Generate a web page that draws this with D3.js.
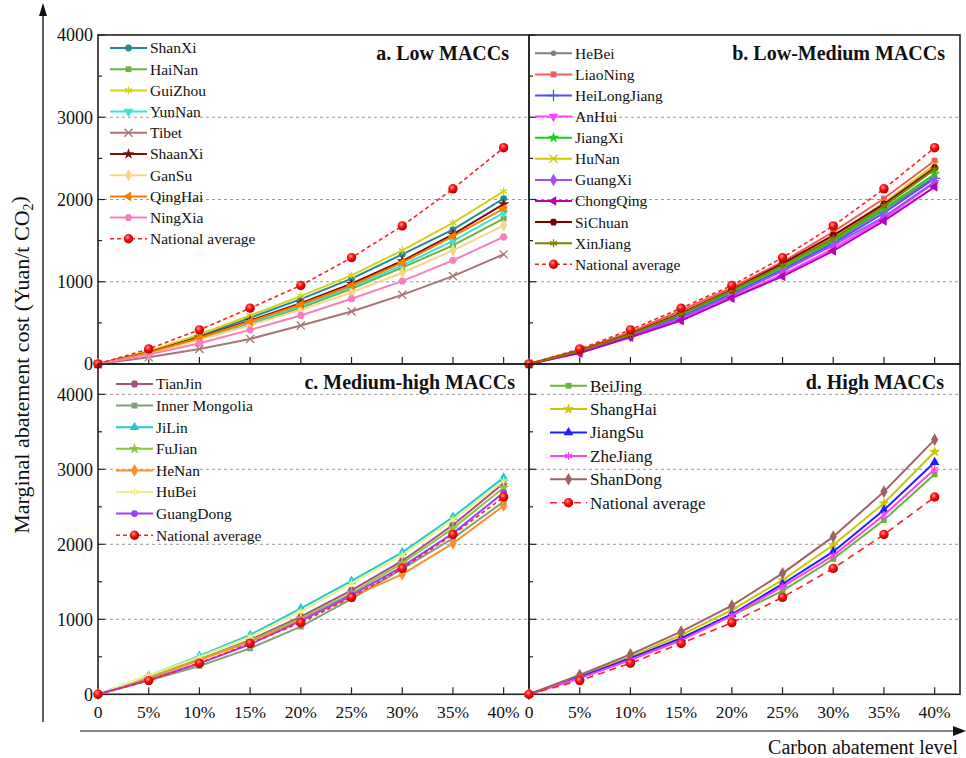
<!DOCTYPE html>
<html>
<head>
<meta charset="utf-8">
<script src="https://cdn.jsdelivr.net/npm/d3@7"></script>
<style>
  body { margin: 0; background: #fff; }
  svg { display: block; font-family: "Liberation Serif", "Times New Roman", serif; }
</style>
</head>
<body>
<svg id="chart" width="966" height="758"></svg>
<script>
// abatement levels (%) and their labels
const levels = [0, 5, 10, 15, 20, 25, 30, 35, 40];
const levelLabels = ["0", "5%", "10%", "15%", "20%", "25%", "30%", "35%", "40%"];
const costTicks = [0, 1000, 2000, 3000, 4000];

const nationalAvg = [0, 183, 415, 679, 955, 1293, 1679, 2130, 2630];

// a. Low MACCs
const lowNames = ["ShanXi", "HaiNan", "GuiZhou", "YunNan", "Tibet", "ShaanXi", "GanSu", "QingHai", "NingXia"];
const lowValues = [
  [0, 146, 341, 561, 789, 1037, 1333, 1634, 2012],
  [0, 130, 305, 488, 683, 915, 1171, 1443, 1768],
  [0, 154, 358, 589, 825, 1077, 1382, 1715, 2098],
  [0, 134, 305, 504, 703, 935, 1199, 1496, 1837],
  [0, 81, 183, 305, 467, 638, 841, 1069, 1333],
  [0, 142, 325, 528, 740, 976, 1252, 1577, 1943],
  [0, 122, 293, 472, 659, 870, 1110, 1382, 1683],
  [0, 138, 317, 516, 724, 955, 1232, 1553, 1890],
  [0, 114, 252, 415, 589, 793, 1008, 1260, 1545]
];

// b. Low-Medium MACCs
const lowMedNames = ["HeBei", "LiaoNing", "HeiLongJiang", "AnHui", "JiangXi", "HuNan", "GuangXi", "ChongQing", "SiChuan", "XinJiang"];
const lowMedValues = [
  [0, 154, 350, 589, 862, 1159, 1484, 1870, 2276],
  [0, 171, 386, 650, 927, 1240, 1606, 2012, 2472],
  [0, 150, 346, 577, 854, 1146, 1463, 1837, 2256],
  [0, 138, 333, 541, 813, 1089, 1402, 1768, 2203],
  [0, 159, 358, 602, 878, 1171, 1504, 1890, 2309],
  [0, 163, 366, 618, 902, 1207, 1545, 1959, 2419],
  [0, 146, 341, 561, 833, 1130, 1443, 1789, 2215],
  [0, 134, 325, 528, 801, 1065, 1374, 1740, 2154],
  [0, 163, 366, 618, 902, 1220, 1565, 1943, 2386],
  [0, 159, 358, 610, 894, 1199, 1524, 1919, 2366]
];

// c. Medium-high MACCs
const medHighNames = ["TianJin", "Inner Mongolia", "JiLin", "FuJian", "HeNan", "HuBei", "GuangDong"];
const medHighValues = [
  [0, 222, 462, 724, 1035, 1387, 1778, 2258, 2813],
  [0, 182, 378, 613, 902, 1271, 1671, 2080, 2569],
  [0, 249, 511, 791, 1147, 1511, 1893, 2364, 2889],
  [0, 231, 471, 711, 1013, 1347, 1747, 2213, 2755],
  [0, 213, 458, 702, 991, 1302, 1600, 2013, 2515],
  [0, 253, 498, 769, 1102, 1480, 1858, 2329, 2844],
  [0, 191, 413, 667, 978, 1324, 1702, 2146, 2689]
];

// d. High MACCs
const highNames = ["BeiJing", "ShangHai", "JiangSu", "ZheJiang", "ShanDong"];
const highValues = [
  [0, 222, 471, 738, 1049, 1378, 1804, 2324, 2933],
  [0, 236, 502, 791, 1124, 1524, 1991, 2547, 3235],
  [0, 227, 480, 747, 1067, 1471, 1902, 2458, 3093],
  [0, 213, 458, 720, 1049, 1436, 1849, 2391, 3000],
  [0, 258, 533, 835, 1182, 1613, 2102, 2702, 3395]
];

// styles
const lowColors = ["#1e8c94", "#6db33f", "#d2d21c", "#33e6d9", "#a47676", "#7b1010", "#f9d58c", "#f77f00", "#f67fbf"];
const lowSymbols = ["circle", "square", "asterisk", "triDown", "times", "star", "diamond", "triLeft", "hexagon"];
const lowMedColors = ["#808080", "#f55a5a", "#5050ff", "#ff44ff", "#22cc22", "#d0c800", "#a64dff", "#b800b8", "#800000", "#7f7f00"];
const lowMedSymbols = ["circleSmall", "square", "plus", "triDown", "star", "times", "diamond", "triLeft", "hexagon", "asterisk"];
const medHighColors = ["#a84f7f", "#82a07c", "#22cccc", "#8cc63c", "#f89030", "#eef08c", "#9a40ff"];
const medHighSymbols = ["hexagon", "square", "triangle", "star", "diamond", "asterisk", "circle"];
const highColors = ["#6cb33a", "#c8c800", "#2020ff", "#ff40ff", "#9c6464"];
const highSymbols = ["square", "star", "triangle", "asterisk", "diamond"];

const svg = d3.select("#chart");

// red ball gradient for national average
const grad = svg.append("defs").append("radialGradient")
  .attr("id", "redball").attr("cx", "40%").attr("cy", "35%").attr("r", "65%");
grad.append("stop").attr("offset", "0%").attr("stop-color", "#ff9a9a");
grad.append("stop").attr("offset", "45%").attr("stop-color", "#ff1010");
grad.append("stop").attr("offset", "100%").attr("stop-color", "#b00000");

const leftX = [98, 529, 960];
const topY = 35, midY = 364, botY = 694.3;

const xLeft = d3.scaleLinear().domain([0, 42.5]).range([leftX[0], leftX[1]]);
const xRight = d3.scaleLinear().domain([0, 42.5]).range([leftX[1], leftX[2]]);
const yTop = d3.scaleLinear().domain([0, 4000]).range([midY, topY]);
const yBot = d3.scaleLinear().domain([0, 4000]).range([botY, 394.3]);

function hexPath(r) {
  const pts = d3.range(6).map(i => {
    const a = Math.PI / 3 * i;
    return [r * Math.cos(a), r * Math.sin(a)];
  });
  return "M" + pts.map(p => p.join(",")).join("L") + "Z";
}

// draw one marker into group g
function marker(g, type, color, x, y) {
  let path, rot = 0, stroke = false;
  if (type == "circle") path = d3.symbol(d3.symbolCircle, 36)();
  else if (type == "circleSmall") path = d3.symbol(d3.symbolCircle, 24)();
  else if (type == "square") path = d3.symbol(d3.symbolSquare, 34)();
  else if (type == "diamond") path = d3.symbol(d3.symbolDiamond, 46)();
  else if (type == "star") path = d3.symbol(d3.symbolStar, 40)();
  else if (type == "triangle") path = d3.symbol(d3.symbolTriangle, 40)();
  else if (type == "triDown") { path = d3.symbol(d3.symbolTriangle, 40)(); rot = 180; }
  else if (type == "triLeft") { path = d3.symbol(d3.symbolTriangle, 40)(); rot = -90; }
  else if (type == "hexagon") path = hexPath(4);
  else if (type == "asterisk") { path = d3.symbol(d3.symbolAsterisk || d3.symbolCross, 44)(); stroke = true; }
  else if (type == "times") { path = d3.symbol(d3.symbolTimes || d3.symbolCross, 44)(); stroke = true; }
  else if (type == "plus") { path = d3.symbol(d3.symbolPlus || d3.symbolCross, 44)(); stroke = true; }

  const m = g.append("path")
    .attr("d", path)
    .attr("transform", `translate(${x},${y}) rotate(${rot})`);
  if (stroke) m.attr("fill", "none").attr("stroke", color).attr("stroke-width", 1.3);
  else m.attr("fill", color);
}

function redBall(g, x, y, r) {
  g.append("circle").attr("cx", x).attr("cy", y).attr("r", r)
    .attr("fill", "url(#redball)");
}

const panels = [
  { title: "a. Low MACCs", names: lowNames, values: lowValues, colors: lowColors, symbols: lowSymbols,
    x: xLeft, y: yTop, top: topY, bottom: midY, yLabels: true, xLabels: false,
    titleX: 509, titleY: 60, legX: 110, legY: 48, legStep: 21.2, legFont: 15.5, natDash: "4,3" },
  { title: "b. Low-Medium MACCs", names: lowMedNames, values: lowMedValues, colors: lowMedColors, symbols: lowMedSymbols,
    x: xRight, y: yTop, top: topY, bottom: midY, yLabels: false, xLabels: false,
    titleX: 945, titleY: 60, legX: 535, legY: 53.3, legStep: 21.1, legFont: 15.5, natDash: "4,3" },
  { title: "c. Medium-high MACCs", names: medHighNames, values: medHighValues, colors: medHighColors, symbols: medHighSymbols,
    x: xLeft, y: yBot, top: midY, bottom: botY, yLabels: true, xLabels: true,
    titleX: 515, titleY: 389, legX: 116, legY: 384, legStep: 21.6, legFont: 15.5, natDash: "4,3" },
  { title: "d. High MACCs", names: highNames, values: highValues, colors: highColors, symbols: highSymbols,
    x: xRight, y: yBot, top: midY, bottom: botY, yLabels: false, xLabels: true,
    titleX: 944, titleY: 389, legX: 550, legY: 385.7, legStep: 23.4, legFont: 17, natDash: "7,5" }
];

panels.forEach(p => {
  const g = svg.append("g");
  const x0 = p.x.range()[0], x1 = p.x.range()[1];

  // grid lines
  costTicks.filter(v => v > 0 && p.y(v) > p.top + 2).forEach(v => {
    g.append("line")
      .attr("x1", x0).attr("x2", x1).attr("y1", p.y(v)).attr("y2", p.y(v))
      .attr("stroke", "#9a9a9a").attr("stroke-width", 1).attr("stroke-dasharray", "3,3");
  });

  // y ticks (inward), major and minor
  d3.range(0, 4001, 500).forEach(v => {
    const yy = p.y(v);
    if (yy < p.top) return;
    const len = v % 1000 == 0 ? 7 : 4;
    g.append("line").attr("x1", x0).attr("x2", x0 + len).attr("y1", yy).attr("y2", yy)
      .attr("stroke", "#222").attr("stroke-width", 1.2);
  });
  if (p.yLabels) {
    costTicks.forEach(v => {
      g.append("text").attr("x", x0 - 5).attr("y", p.y(v)).attr("dy", "0.35em")
        .attr("text-anchor", "end").attr("font-size", 18).attr("fill", "#111").text(v);
    });
  }

  // x ticks (inward)
  levels.forEach(l => {
    g.append("line").attr("x1", p.x(l)).attr("x2", p.x(l)).attr("y1", p.bottom).attr("y2", p.bottom - 7)
      .attr("stroke", "#222").attr("stroke-width", 1.2);
  });
  if (p.xLabels) {
    levels.forEach((l, i) => {
      g.append("text").attr("x", p.x(l)).attr("y", p.bottom + 18).attr("dy", "0.35em")
        .attr("text-anchor", "middle").attr("font-size", 17.5).attr("fill", "#111").text(levelLabels[i]);
    });
  }

  // frame
  g.append("rect").attr("x", x0).attr("y", p.top).attr("width", x1 - x0).attr("height", p.bottom - p.top)
    .attr("fill", "none").attr("stroke", "#222").attr("stroke-width", 1.6);

  const line = d3.line().x((d, i) => p.x(levels[i])).y(d => p.y(d));

  // province series
  p.values.forEach((vals, k) => {
    const s = g.append("g");
    s.append("path").attr("d", line(vals)).attr("fill", "none")
      .attr("stroke", p.colors[k]).attr("stroke-width", 2);
    vals.forEach((v, i) => marker(s, p.symbols[k], p.colors[k], p.x(levels[i]), p.y(v)));
  });

  // national average
  g.append("path").attr("d", line(nationalAvg)).attr("fill", "none")
    .attr("stroke", "#ff2020").attr("stroke-width", 1.6).attr("stroke-dasharray", p.natDash);
  nationalAvg.forEach((v, i) => redBall(g, p.x(levels[i]), p.y(v), 4.7));

  // legend
  const allNames = p.names.concat(["National average"]);
  allNames.forEach((n, i) => {
    const ly = p.legY + i * p.legStep;
    const lg = g.append("g");
    const isNat = i == p.names.length;
    lg.append("line").attr("x1", p.legX).attr("x2", p.legX + 37).attr("y1", ly).attr("y2", ly)
      .attr("stroke", isNat ? "#ff2020" : p.colors[i]).attr("stroke-width", isNat ? 1.6 : 2)
      .attr("stroke-dasharray", isNat ? p.natDash : null);
    if (isNat) redBall(lg, p.legX + 18.5, ly, 4.7);
    else marker(lg, p.symbols[i], p.colors[i], p.legX + 18.5, ly);
    lg.append("text").attr("x", p.legX + 40).attr("y", ly).attr("dy", "0.35em")
      .attr("font-size", p.legFont).attr("fill", "#111").text(n);
  });

  // title
  g.append("text").attr("x", p.titleX).attr("y", p.titleY).attr("text-anchor", "end")
    .attr("font-size", 20).attr("font-weight", "bold").attr("fill", "#111").text(p.title);
});

// outer arrows
svg.append("line").attr("x1", 43).attr("x2", 43).attr("y1", 722).attr("y2", 14)
  .attr("stroke", "#333").attr("stroke-width", 1.6);
svg.append("path").attr("d", "M43,3 L39,16 L47,16 Z").attr("fill", "#111");
svg.append("line").attr("x1", 80).attr("x2", 955).attr("y1", 731).attr("y2", 731)
  .attr("stroke", "#888").attr("stroke-width", 2);
svg.append("path").attr("d", "M966,731 L953,726 L953,736 Z").attr("fill", "#111");

// axis titles
svg.append("text").attr("transform", "translate(21,365) rotate(-90)")
  .attr("text-anchor", "middle").attr("dy", "0.35em").attr("font-size", 22).attr("fill", "#111")
  .text("Marginal abatement cost (Yuan/t CO")
  .append("tspan").attr("font-size", 14).attr("dy", "0.3em").text("2")
  .select(function() { return this.parentNode; })
  .append("tspan").attr("dy", "-0.3em").text(")");
svg.append("text").attr("x", 958).attr("y", 754).attr("text-anchor", "end")
  .attr("font-size", 20).attr("fill", "#111").text("Carbon abatement level");
</script>
</body>
</html>
